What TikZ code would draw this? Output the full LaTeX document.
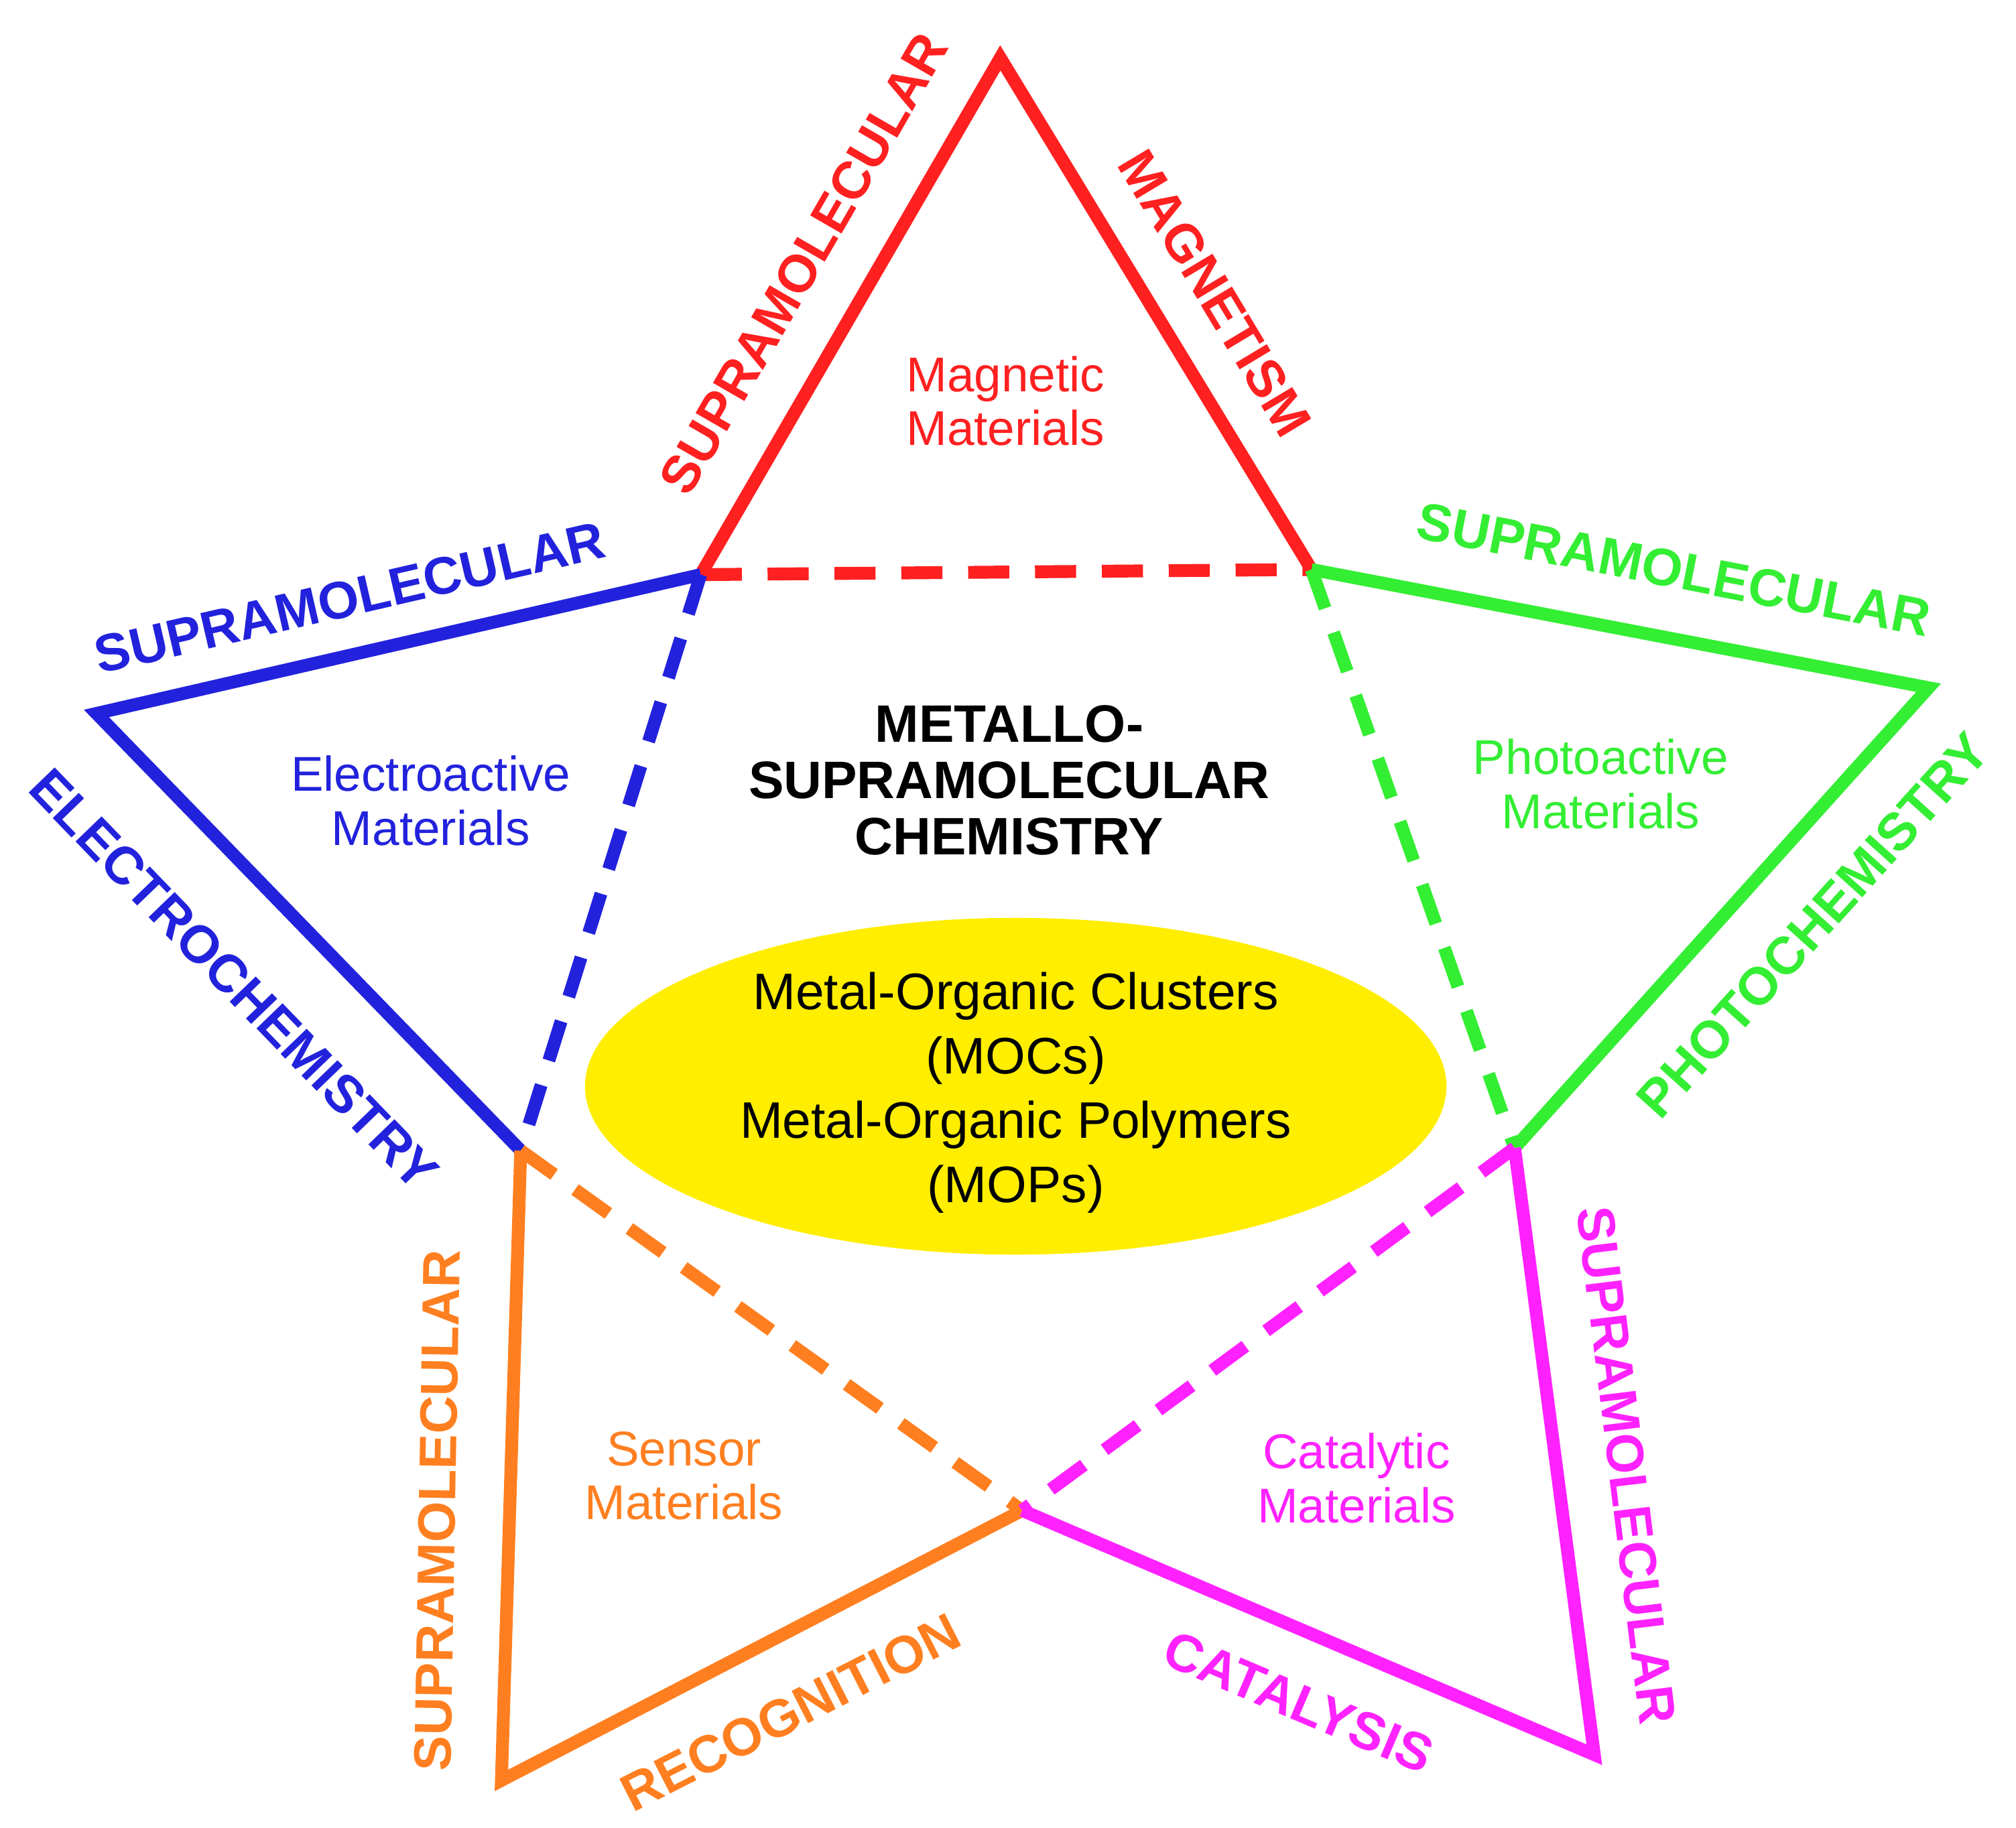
\documentclass[tikz,border=0pt]{standalone}
\usepackage{fontspec}
\setmainfont{Liberation Sans}
\usetikzlibrary{shapes.geometric}
\begin{document}
\begin{tikzpicture}[x=1pt,y=-1pt,
  solidln/.style={line width=10pt,line join=miter},
  dshln/.style={line width=10pt,dash pattern=on 32pt off 20pt},
  captxt/.style={font=\fontsize{41}{43}\selectfont\bfseries,inner sep=1pt},
  intxt/.style={font=\fontsize{38}{42}\selectfont,align=center}]
\useasboundingbox (0,0) rectangle (1568,1422);
\definecolor{cR}{HTML}{FF2020}\definecolor{cB}{HTML}{2222DD}
\definecolor{cG}{HTML}{33EE33}\definecolor{cO}{HTML}{FF7F20}
\definecolor{cM}{HTML}{FF22FF}\definecolor{cY}{HTML}{FFEE00}
\coordinate (T) at (778,45);
\coordinate (UL) at (545,447);
\coordinate (UR) at (1020,443);
\coordinate (L) at (75,555);
\coordinate (R) at (1500,535);
\coordinate (LL) at (405,895);
\coordinate (LR) at (1178,893);
\coordinate (B) at (795,1175);
\coordinate (BL) at (390,1385);
\coordinate (BR) at (1240,1365);
\node[ellipse,fill=cY,minimum width=670,minimum height=262,inner sep=0] (ell) at (790,845) {};
\node[align=center,font=\fontsize{40}{50}\selectfont] (mo) at (790,850) {Metal-Organic Clusters\\(MOCs)\\Metal-Organic Polymers\\(MOPs)};
\draw[solidln,cR] (UL)--(T)--(UR);
\draw[solidln,cB] (UL)--(L)--(LL);
\draw[solidln,cG] (UR)--(R)--(LR);
\draw[solidln,cO] (LL)--(BL)--(B);
\draw[solidln,cM] (LR)--(BR)--(B);
\draw[dshln,cR] (UL)--(UR);
\draw[dshln,cB] (UL)--(LL);
\draw[dshln,cG] (UR)--(LR);
\draw[dshln,cO] (LL)--(B);
\draw[dshln,cM] (LR)--(B);
\node[captxt,cR,rotate=60] (s1) at (625,205) {SUPRAMOLECULAR};
\node[captxt,cR,rotate=-59] (m1) at (945,228) {MAGNETISM};
\node[captxt,cB,rotate=13] (s2) at (272,465) {SUPRAMOLECULAR};
\node[captxt,cB,rotate=-46] (e1) at (182,762) {ELECTROCHEMISTRY};
\node[captxt,cG,rotate=-11] (s3) at (1302,443) {SUPRAMOLECULAR};
\node[captxt,cG,rotate=48] (p1) at (1410,720) {PHOTOCHEMISTRY};
\node[captxt,cO,rotate=89] (s4) at (340,1175) {SUPRAMOLECULAR};
\node[captxt,cO,rotate=27] (r1) at (615,1332) {RECOGNITION};
\node[captxt,cM,rotate=-83] (s5) at (1265,1140) {SUPRAMOLECULAR};
\node[captxt,cM,rotate=-23] (c1) at (1010,1324) {CATALYSIS};
\node[intxt,cR] (mm) at (782,312) {Magnetic\\Materials};
\node[intxt,cB] (em) at (335,623) {Electroactive\\Materials};
\node[intxt,cG] (pm) at (1245,610) {Photoactive\\Materials};
\node[intxt,cO] (sm) at (532,1148) {Sensor\\Materials};
\node[intxt,cM] (cm) at (1055,1150) {Catalytic\\Materials};
\node[font=\fontsize{41}{44}\selectfont\bfseries,align=center] (ms) at (785,607) {METALLO-\\SUPRAMOLECULAR\\CHEMISTRY};
\end{tikzpicture}
\end{document}
